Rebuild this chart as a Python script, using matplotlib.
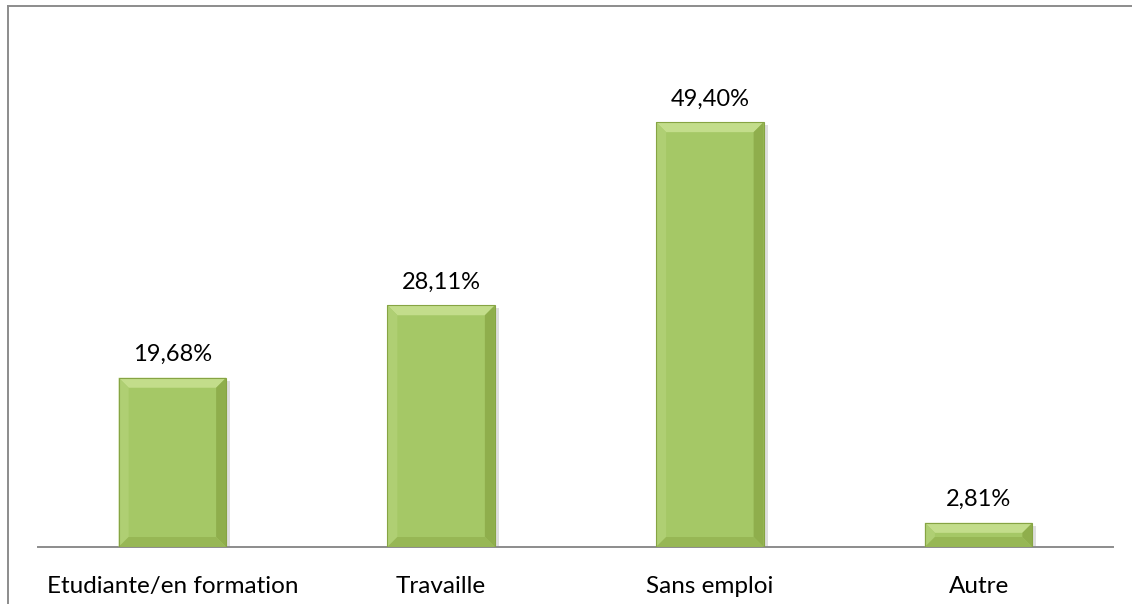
import numpy as np
import matplotlib
matplotlib.use("Agg")
import matplotlib.pyplot as plt
from matplotlib.patches import Polygon
from matplotlib.lines import Line2D

categories = ["Etudiante/en formation", "Travaille", "Sans emploi", "Autre"]
values = [19.68, 28.11, 49.40, 2.81]
value_labels = ["19,68%", "28,11%", "49,40%", "2,81%"]

W, H = 1132, 604
plt.rcParams['font.family'] = ['Lato', 'DejaVu Sans']

fig = plt.figure(figsize=(W / 100, H / 100), dpi=100)
fig.patch.set_facecolor('white')

# plot area in pixels: x 38..1113, y 31..547
ax = fig.add_axes([38 / W, 1 - 547 / H, (1113 - 38) / W, (547 - 31) / H])
ax.set_xlim(-0.5, 3.5)
ax.set_ylim(0, 60)
for s in ['left', 'right', 'top']:
    ax.spines[s].set_visible(False)
ax.spines['bottom'].set_color('#8c8c8c')
ax.spines['bottom'].set_linewidth(1.4)
ax.set_yticks([])
x = np.arange(len(categories))
ax.set_xticks(x)
ax.set_xticklabels(categories, fontsize=17.5)
ax.tick_params(axis='x', length=0, pad=21)

bar_w = 0.40
bars = ax.bar(x, values, width=bar_w, color='#a5c866', edgecolor='none', zorder=2)

# pixel -> data scale for bevel size
px_x = 4.0 / (1113 - 38)
px_y = 60.0 / (547 - 31)
bev = 10
for b in bars:
    x0, y0 = b.get_x(), b.get_y()
    x1, y1 = x0 + b.get_width(), y0 + b.get_height()
    bx, by = bev * px_x, min(bev * px_y, (y1 - y0) / 2)
    # shadow
    ax.add_patch(Polygon([(x0 + 3 * px_x, y0), (x1 + 4 * px_x, y0), (x1 + 4 * px_x, y1 - 3 * px_y),
                          (x1, y1 - 3 * px_y), (x1, y0)], closed=True,
                         facecolor='#c8c8c8', edgecolor='none', alpha=0.6, zorder=1))
    ax.add_patch(Polygon([(x0, y1), (x1, y1), (x1 - bx, y1 - by), (x0 + bx, y1 - by)],
                         facecolor='#c3dd8b', edgecolor='none', zorder=3))
    ax.add_patch(Polygon([(x0, y0), (x0, y1), (x0 + bx, y1 - by), (x0 + bx, y0 + by)],
                         facecolor='#afcf73', edgecolor='none', zorder=3))
    ax.add_patch(Polygon([(x1, y0), (x1, y1), (x1 - bx, y1 - by), (x1 - bx, y0 + by)],
                         facecolor='#8fae4c', edgecolor='none', zorder=3))
    ax.add_patch(Polygon([(x0, y0), (x1, y0), (x1 - bx, y0 + by), (x0 + bx, y0 + by)],
                         facecolor='#97b755', edgecolor='none', zorder=3))
    ax.add_patch(Polygon([(x0, y0), (x0, y1), (x1, y1), (x1, y0)], closed=True,
                         facecolor='none', edgecolor='#86a443', linewidth=0.8, zorder=4))

for xi, v, lab in zip(x, values, value_labels):
    ax.annotate(lab, (xi, v), xytext=(0, 9), textcoords='offset points',
                ha='center', va='bottom', fontsize=17, color='black')

# outer frame (left and top only visible)
fig.add_artist(Line2D([7.5 / W, 7.5 / W], [0, 1 - 6 / H], transform=fig.transFigure,
                      color='#8c8c8c', linewidth=1.4))
fig.add_artist(Line2D([7.5 / W, 1], [1 - 6 / H, 1 - 6 / H], transform=fig.transFigure,
                      color='#8c8c8c', linewidth=1.4))

fig.savefig("out.png", dpi=100)
